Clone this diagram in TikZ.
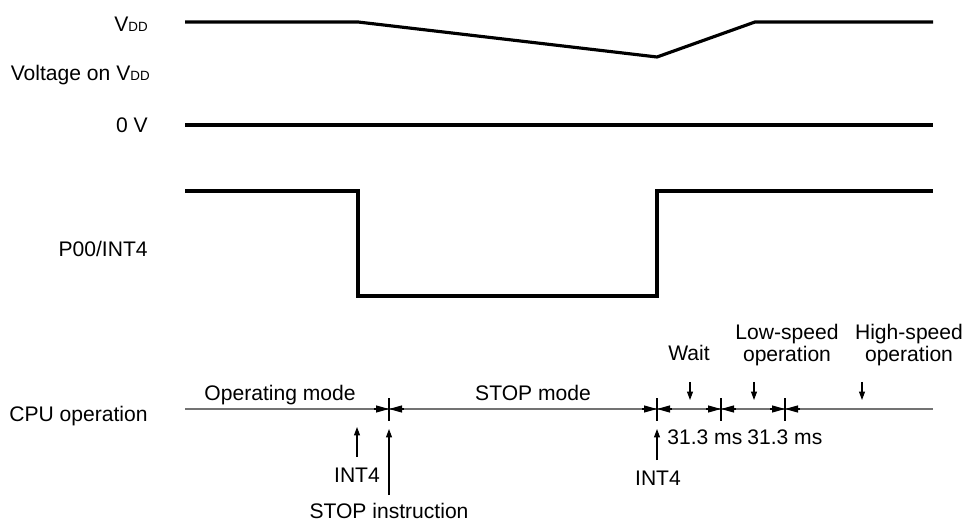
\documentclass[tikz,border=0pt]{standalone}
\usepackage{fontspec}
\setmainfont{Liberation Sans}
\usetikzlibrary{arrows.meta}

\newcommand{\vdd}{V{\fontsize{7.6}{7.6}\selectfont DD}}

\tikzset{
    wave/.style={line width=1.8pt},
    lbl/.style={anchor=base east, inner sep=0pt},
    txt/.style={anchor=base, inner sep=0pt},
    twoline/.style={anchor=south, inner sep=0pt, align=center},
    cpuline/.style={draw=black!55, line width=0.9pt},
    tickline/.style={line width=0.6pt},
    dimtip/.style={-{Triangle[length=0.26cm,width=0.14cm]}, line width=0.6pt},
    pointer/.style={-{Triangle[length=0.17cm,width=0.12cm]}, line width=0.6pt},
}

\begin{document}
\begin{tikzpicture}[x=0.02cm, y=-0.02cm, font=\fontsize{12}{10.3}\selectfont]
        \useasboundingbox (0,0) rectangle (967,523);

        % popisky vlevo
        \node[lbl] (vddlbl) at (148,32) {\vdd};
        \node[lbl] (vonlbl) at (150,81) {Voltage on \vdd};
        \node[lbl] (zerolbl) at (148,133) {0 V};
        \node[lbl] (portlbl) at (148,257) {P00/INT4};
        \node[lbl] (cpulbl) at (148,421) {CPU operation};

        % napeti VDD
        \draw[wave] (185,22) coordinate (v0)
        -- (358,22) coordinate (v1)
        -- (657,57) coordinate (v2)
        -- (755,22) coordinate (v3)
        -- (933,22) coordinate (v4);

        % 0 V
        \draw[wave] (185,125) coordinate (g0) -- (933,125) coordinate (g1);

        % P00/INT4
        \draw[wave] (185,191) coordinate (p0)
        -- (358,191) coordinate (p1)
        -- (358,296) coordinate (p2)
        -- (657,296) coordinate (p3)
        -- (657,191) coordinate (p4)
        -- (933,191) coordinate (p5);

        % CPU operation
        \draw[cpuline] (185,409) coordinate (c0) -- (933,409) coordinate (c1);
        \coordinate (t1) at (389,409);
        \coordinate (t2) at (657,409);
        \coordinate (t3) at (721,409);
        \coordinate (t4) at (785,409);
        \foreach \t in {t1,t2,t3,t4} {
            \draw[tickline] ([yshift=0.22cm]\t) -- ([yshift=-0.25cm]\t);
            \draw[dimtip] ([xshift=-0.3cm]\t) -- (\t);
            \draw[dimtip] ([xshift=0.3cm]\t) -- (\t);
        }

        \node[txt] (opmode) at (280,400) {Operating mode};
        \node[txt] (stopmode) at (533,400) {STOP mode};

        % rezimy po INT4
        \node[txt] (wait) at (689,361) {Wait};
        \node[twoline] (lowspeed) at (787,366) {Low-speed\\operation};
        \node[twoline] (highspeed) at (909,366) {High-speed\\operation};
        \coordinate (wait0) at (690,382);
        \coordinate (wait1) at (690,400);
        \coordinate (low0) at (754,382);
        \coordinate (low1) at (754,400);
        \coordinate (high0) at (862,382);
        \coordinate (high1) at (862,400);
        \draw[pointer] (wait0) -- (wait1);
        \draw[pointer] (low0) -- (low1);
        \draw[pointer] (high0) -- (high1);

        \node[txt, anchor=base west] (waittime) at (667,444) {31.3 ms};
        \node[txt, anchor=base west] (lowtime) at (747,444) {31.3 ms};

        % udalosti pod osou
        \node[txt] (inta) at (357,482) {INT4};
        \node[txt] (stopins) at (389,518) {STOP instruction};
        \node[txt] (intb) at (658,485) {INT4};
        \coordinate (inta0) at (357,457);
        \coordinate (inta1) at (357,427);
        \coordinate (stop0) at (389,495);
        \coordinate (stop1) at (389,429);
        \coordinate (intb0) at (657,460);
        \coordinate (intb1) at (657,429);
        \draw[pointer] (inta0) -- (inta1);
        \draw[pointer] (stop0) -- (stop1);
        \draw[pointer] (intb0) -- (intb1);
    \end{tikzpicture}
\end{document}
